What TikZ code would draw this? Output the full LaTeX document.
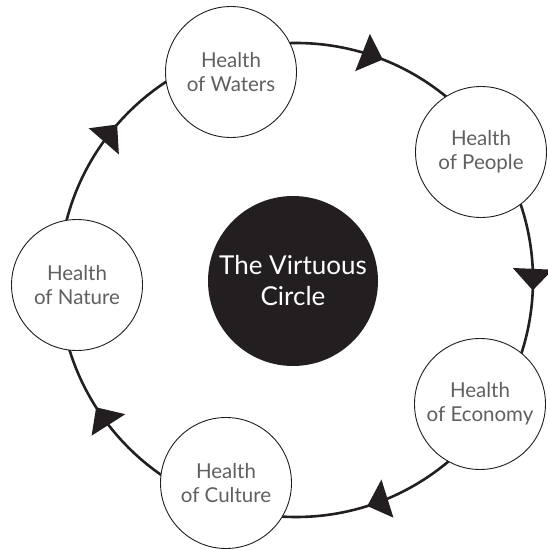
\documentclass[tikz,border=0pt]{standalone}
\usepackage{fontspec}
\setmainfont{Lato}
\usetikzlibrary{calc}
\definecolor{ink}{HTML}{231F20}
\definecolor{greytext}{HTML}{5F6062}
\tikzset{
  health/.style={draw=ink, circle, fill=white, line width=0.9pt, minimum size=131pt, inner sep=0pt, align=center, text=greytext, font=\fontsize{20.5}{24}\selectfont},
  core/.style={circle, fill=ink, minimum size=170pt, inner sep=0pt, align=center, text=white, font=\fontsize{26}{31}\selectfont},
  ring/.style={draw=ink, line width=2.6pt},
}
\begin{document}
\begin{tikzpicture}[x=1pt,y=1pt]
  \useasboundingbox (0,0) rectangle (548,550);
  % the ring and its clockwise arrowheads
  \coordinate (hub) at (296,270);
  \draw[ring] (hub) circle (237);
  \foreach \ang in {139,68.5,-2.5,-72.5,-147.5}
    \fill[ink] ($(hub)+(\ang:237)$) -- ($(hub)+(\ang+5.2:237)+(\ang:20)$) -- ($(hub)+(\ang+5.2:237)+(\ang+180:20)$) -- cycle;

  % centre and the five healths
  \node[core] (virtuous) at (293,269) {The Virtuous\\Circle};
  \node[health] (waters) at (231,478) {Health\\of Waters};
  \node[health] (people) at (481,398) {Health\\of People};
  \node[health] (economy) at (480,146) {Health\\of Economy};
  \node[health] (culture) at (226,67) {Health\\of Culture};
  \node[health] (nature) at (77,265) {Health\\of Nature};
\end{tikzpicture}
\end{document}
